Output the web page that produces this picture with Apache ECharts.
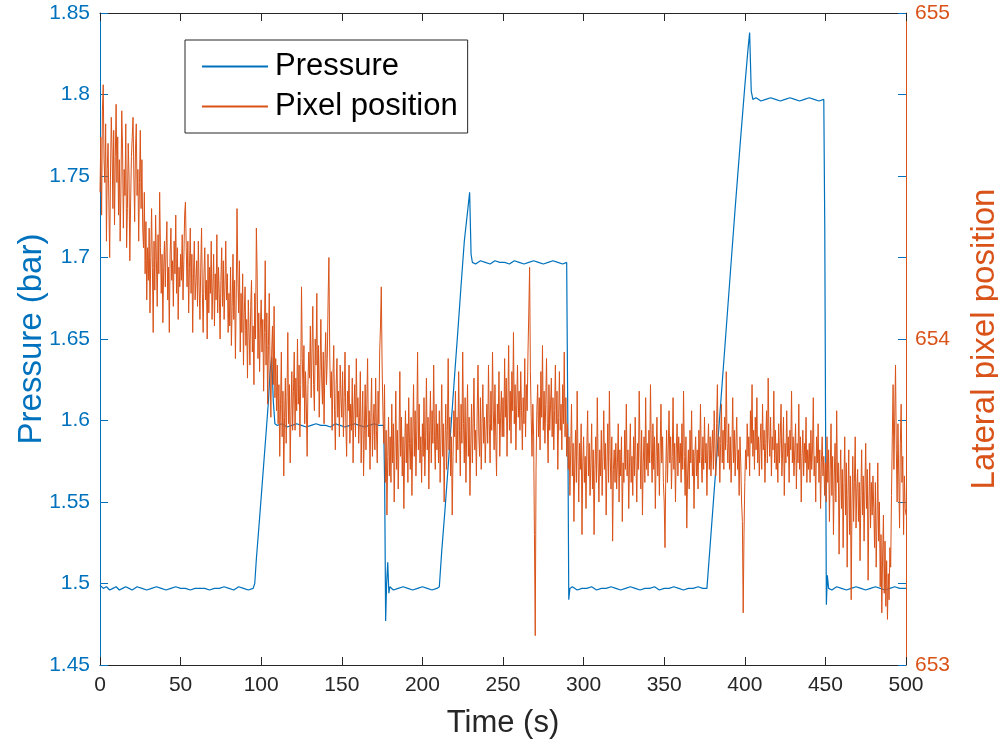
<!DOCTYPE html>
<html>
<head>
<meta charset="utf-8">
<script src="https://cdn.jsdelivr.net/npm/echarts@6/dist/echarts.min.js"></script>
<style>html,body{margin:0;padding:0;background:#fff;}#c{width:998px;height:745px;}</style>
</head>
<body>
<div id="c"></div>
<script>
// X tick labels
var timeTicks = [0, 50, 100, 150, 200, 250, 300, 350, 400, 450, 500];

// Pressure (bar): sample times (s) and values
var pressureTime = [0,2,4,6,8,10,12,14,16,18,20,23,26,29,32,35,38,41,44,47,50,53,56,59,62,65,68,71,74,77,80,83,86,89,92,95,
  96,97,99,101,103,104.5,105.5,106.5,107.5,108.5,110,113,116,119,122,125,128,131,134,137,140,143,146,149,152,155,158,161,164,167,170,173,176,
  176.6,177.2,177.8,178.5,179.2,179.8,180.5,182,185,188,191,194,197,200,203,206,209,210.5,
  212,214,216,218,220,222,224,226,228,229.3,230.2,231,233,236,239,242,245,248,251,254,257,260,263,266,269,272,275,278,281,284,287,289.5,
  290.2,290.8,291.5,293,296,299,302,305,308,311,314,317,320,323,326,329,332,335,338,341,344,347,350,353,356,359,362,365,368,371,374,376.5,
  379,382,385,388,391,394,397,400,402,403,404,405,407,410,413,416,419,422,425,428,431,434,437,440,443,446,449,
  449.6,450.1,450.6,451.2,452,454,457,460,463,466,469,472,475,478,481,484,487,490,493,496,500];
var pressureValue = [1.499,1.497,1.498,1.496,1.497,1.498,1.496,1.497,1.498,1.497,1.496,1.498,1.497,1.496,1.497,1.498,1.497,1.496,1.497,1.498,1.497,1.497,1.496,1.497,1.497,1.497,1.496,1.497,1.497,1.498,1.497,1.496,1.498,1.497,1.496,1.497,
  1.500,1.515,1.540,1.566,1.592,1.612,1.630,1.639,1.612,1.598,1.597,1.598,1.596,1.597,1.598,1.597,1.596,1.597,1.598,1.597,1.597,1.596,1.598,1.597,1.596,1.597,1.598,1.597,1.596,1.597,1.598,1.597,1.597,
  1.560,1.477,1.500,1.513,1.494,1.498,1.497,1.496,1.497,1.498,1.497,1.496,1.497,1.498,1.497,1.496,1.497,1.498,
  1.520,1.545,1.572,1.600,1.628,1.655,1.683,1.710,1.728,1.740,1.702,1.697,1.696,1.698,1.697,1.696,1.698,1.697,1.697,1.696,1.698,1.697,1.696,1.697,1.698,1.697,1.696,1.697,1.698,1.697,1.696,1.697,
  1.600,1.490,1.497,1.498,1.496,1.497,1.497,1.498,1.496,1.497,1.497,1.498,1.497,1.496,1.497,1.498,1.497,1.496,1.497,1.497,1.498,1.496,1.497,1.497,1.498,1.497,1.496,1.497,1.497,1.498,1.497,1.497,
  1.530,1.570,1.610,1.650,1.690,1.730,1.768,1.805,1.828,1.838,1.802,1.797,1.798,1.796,1.797,1.798,1.797,1.796,1.797,1.798,1.797,1.796,1.797,1.798,1.797,1.796,1.797,
  1.720,1.600,1.487,1.505,1.497,1.496,1.498,1.497,1.496,1.497,1.498,1.497,1.496,1.497,1.498,1.497,1.496,1.497,1.498,1.497,1.497];

// Lateral pixel position: one sample every 0.5 s, t = 0 .. 500 s (20 samples per row = 10 s)
var pixelStep = 0.5;
var pixelPosition = [
654.45,654.62,654.38,654.70,654.78,654.55,654.48,654.66,654.30,654.52,654.60,654.42,654.25,654.50,654.68,654.58,654.40,654.64,654.35,654.56,
654.72,654.48,654.62,654.38,654.55,654.30,654.46,654.70,654.58,654.34,654.52,654.44,654.66,654.28,654.40,654.60,654.50,654.24,654.42,654.56,
654.62,654.68,654.50,654.36,654.58,654.66,654.44,654.52,654.30,654.48,654.64,654.40,654.55,654.34,654.28,654.45,654.20,654.36,654.12,654.28,
654.18,654.34,654.08,654.25,654.40,654.22,654.02,654.30,654.15,654.38,654.24,654.10,654.32,654.20,654.45,654.28,654.14,654.26,654.05,654.22,
654.30,654.16,654.28,654.36,654.12,654.22,654.02,654.26,654.34,654.18,654.24,654.10,654.30,654.20,654.38,654.14,654.28,654.06,654.22,654.16,
654.26,654.18,654.32,654.12,654.24,654.38,654.42,654.28,654.16,654.30,654.08,654.22,654.34,654.14,654.26,654.02,654.20,654.30,654.12,654.18,
654.24,654.10,654.30,654.16,654.06,654.22,654.34,654.14,654.02,654.20,654.28,654.12,654.18,654.00,654.26,654.08,654.22,654.14,654.30,654.06,
654.16,654.26,654.04,654.20,654.12,654.32,654.08,654.22,654.14,654.00,654.18,654.28,654.10,654.24,654.06,654.16,654.30,654.12,654.20,654.02,
654.14,654.04,654.22,653.98,654.10,654.26,654.06,654.18,653.94,654.12,654.40,654.20,654.08,654.24,653.96,654.14,654.02,654.20,653.92,654.08,
654.16,653.98,654.06,653.88,654.12,654.02,653.92,654.10,654.18,653.96,654.04,653.86,654.14,654.00,654.34,654.20,653.94,654.08,653.90,654.04,
654.12,653.96,654.06,653.84,654.02,654.24,653.92,654.08,653.80,653.98,654.14,653.90,653.76,653.96,654.04,653.86,654.10,653.82,653.94,653.78,
653.92,653.74,653.86,653.64,653.80,653.96,653.70,653.84,653.58,653.76,653.88,653.68,653.82,654.02,653.74,653.86,653.62,653.78,653.90,653.72,
653.84,653.96,653.72,653.88,653.78,654.00,653.80,653.92,653.70,653.86,654.16,653.94,653.82,653.98,653.74,653.90,653.80,653.64,653.86,653.96,
653.88,654.04,653.82,653.96,654.10,653.86,653.78,654.00,653.92,654.14,653.84,653.98,653.76,653.90,654.06,653.88,653.80,653.96,653.74,653.92,
654.02,653.86,653.94,654.12,654.25,653.96,653.82,653.90,653.72,653.88,653.98,653.78,653.66,653.86,653.94,653.76,653.84,653.70,653.92,653.82,
653.76,653.90,653.70,653.82,653.96,653.74,653.64,653.84,653.78,653.92,653.68,653.80,653.72,653.88,653.62,653.78,653.86,653.70,653.94,653.76,
653.82,653.68,653.76,653.90,653.62,653.74,653.84,653.58,653.72,653.86,653.66,653.80,653.94,653.70,653.78,653.60,653.76,653.88,653.64,653.74,
653.80,653.66,653.88,653.72,653.62,653.84,653.74,653.96,654.04,654.16,653.92,653.78,653.68,653.86,653.56,653.72,653.46,653.64,653.76,653.58,
653.70,653.56,653.80,653.62,653.74,653.50,653.66,653.84,653.60,653.72,653.54,653.68,653.90,653.64,653.76,653.58,653.70,653.48,653.66,653.78,
653.62,653.74,653.56,653.82,653.68,653.60,653.76,653.52,653.70,653.86,653.64,653.78,653.58,653.72,653.96,653.66,653.80,653.62,653.70,653.56,
653.74,653.64,653.82,653.58,653.70,653.88,653.66,653.76,653.54,653.72,653.84,653.62,653.78,653.68,653.92,653.70,653.60,653.80,653.66,653.74,
653.62,653.78,653.56,653.70,653.86,653.64,653.74,653.50,653.68,653.80,653.60,653.72,653.94,653.66,653.76,653.58,653.70,653.46,653.64,653.78,
653.70,653.84,653.62,653.76,653.66,653.90,653.72,653.58,653.80,653.68,653.96,653.74,653.62,653.82,653.56,653.72,653.86,653.64,653.76,653.52,
653.68,653.80,653.62,653.74,653.88,653.66,653.72,653.58,653.78,653.92,653.70,653.64,653.82,653.60,653.74,653.86,653.68,653.76,653.62,653.72,
653.80,653.68,653.92,653.74,653.62,653.84,653.72,653.96,653.78,653.66,653.86,653.70,653.58,653.80,653.74,653.90,653.64,653.76,653.84,653.70,
653.82,653.70,653.94,653.76,653.88,653.64,653.80,653.98,653.72,653.84,653.68,653.90,653.78,654.02,653.74,653.86,653.66,653.80,653.92,653.76,
653.84,653.72,653.90,653.78,653.66,653.82,653.74,653.94,653.70,653.86,653.78,653.96,654.08,654.22,653.90,653.76,653.64,653.80,653.70,653.40,
653.09,653.60,653.78,653.86,653.70,653.82,653.66,653.90,653.76,653.98,653.72,653.84,653.68,653.80,653.94,653.74,653.62,653.86,653.72,653.80,
653.88,653.70,653.82,653.66,653.78,653.92,653.74,653.84,653.60,653.76,653.90,653.72,653.80,653.66,653.86,653.74,653.96,653.70,653.82,653.64,
653.74,653.60,653.70,653.52,653.66,653.80,653.58,653.68,653.44,653.62,653.72,653.56,653.84,653.64,653.50,653.68,653.60,653.74,653.40,653.62,
653.70,653.56,653.64,653.48,653.66,653.78,653.58,653.68,653.52,653.62,653.74,653.54,653.66,653.40,653.60,653.70,653.56,653.82,653.62,653.50,
653.66,653.58,653.72,653.52,653.64,653.78,653.60,653.68,653.46,653.62,653.74,653.56,653.84,653.64,653.54,653.70,653.38,653.60,653.66,653.56,
653.68,653.54,653.62,653.74,653.50,653.66,653.58,653.70,653.44,653.62,653.56,653.72,653.60,653.80,653.58,653.66,653.48,653.62,653.74,653.56,
653.64,653.52,653.70,653.58,653.76,653.62,653.50,653.68,653.60,653.84,653.66,653.54,653.72,653.46,653.62,653.70,653.56,653.82,653.60,653.68,
653.58,653.72,653.62,653.86,653.66,653.56,653.74,653.60,653.70,653.48,653.64,653.76,653.58,653.68,653.52,653.66,653.80,653.62,653.70,653.56,
653.50,653.36,653.60,653.72,653.56,653.66,653.78,653.62,653.70,653.54,653.64,653.82,653.60,653.68,653.50,653.66,653.74,653.58,653.70,653.62,
653.68,653.56,653.74,653.60,653.84,653.64,653.52,653.70,653.42,653.58,653.66,653.54,653.72,653.62,653.78,653.58,653.66,653.48,653.64,653.70,
653.58,653.66,653.54,653.72,653.62,653.80,653.64,653.56,653.70,653.60,653.76,653.62,653.68,653.52,653.66,653.74,653.60,653.70,653.58,653.66,
653.72,653.60,653.78,653.66,653.58,653.74,653.86,653.64,653.70,653.56,653.68,653.80,653.62,653.72,653.60,653.76,653.66,653.90,653.68,653.62,
653.74,653.60,653.70,653.56,653.66,653.82,653.62,653.72,653.58,653.68,653.76,653.60,653.66,653.52,653.70,653.62,653.50,653.44,653.16,653.40,
653.56,653.66,653.60,653.74,653.64,653.70,653.58,653.78,653.68,653.86,653.64,653.72,653.60,653.76,653.66,653.82,653.62,653.70,653.58,653.68,
653.74,653.60,653.80,653.66,653.72,653.56,653.68,653.78,653.62,653.88,653.70,653.64,653.76,653.58,653.70,653.66,653.84,653.62,653.72,653.60,
653.68,653.56,653.74,653.62,653.70,653.80,653.58,653.66,653.76,653.52,653.68,653.62,653.78,653.64,653.70,653.56,653.72,653.66,653.84,653.62,
653.70,653.58,653.66,653.74,653.54,653.68,653.62,653.80,653.60,653.70,653.50,653.64,653.72,653.58,653.68,653.62,653.76,653.56,653.66,653.60,
653.68,653.56,653.72,653.60,653.66,653.82,653.58,653.64,653.50,653.70,653.62,653.74,653.56,653.66,653.48,653.62,653.70,653.58,653.64,653.52,
653.62,653.50,653.70,653.56,653.66,653.44,653.60,653.74,653.52,653.64,653.40,653.58,653.68,653.50,653.78,653.56,653.62,653.34,653.56,653.66,
653.48,653.60,653.36,653.56,653.70,653.46,653.62,653.30,653.52,653.66,653.40,653.58,653.20,653.50,653.64,653.44,653.56,653.70,653.42,653.54,
653.60,653.44,653.56,653.32,653.52,653.66,653.46,653.58,653.38,653.54,653.68,653.48,653.60,653.26,653.50,653.62,653.42,653.56,653.46,653.58,
653.48,653.36,653.56,653.30,653.44,653.62,653.38,653.50,653.24,653.40,653.16,653.34,653.46,653.22,653.38,653.18,653.32,653.14,653.28,653.20,
653.36,653.30,653.52,653.70,653.86,653.60,653.76,653.92,653.66,653.50,653.74,653.58,653.42,653.68,653.80,653.56,653.64,653.40,653.58,653.48,
653.46];

var BLUE = '#0072BD', ORANGE = '#D95319', DARK = '#262626';
var FONT = 'Liberation Sans, Arial, Helvetica, sans-serif';

var pressureData = pressureTime.map(function (t, i) { return [t, pressureValue[i]]; });
var pixelData = pixelPosition.map(function (v, i) { return [i * pixelStep, v]; });

var chart = echarts.init(document.getElementById('c'), null, {renderer: 'canvas'});
chart.setOption({
  animation: false,
  backgroundColor: '#fff',
  textStyle: {fontFamily: FONT},
  grid: {left: 100, right: 92, top: 13, bottom: 80, containLabel: false, outerBoundsMode: 'none'},
  legend: {
    orient: 'vertical', left: 185, top: 40,
    padding: [11, 10, 11, 17],
    backgroundColor: '#fff', borderColor: DARK, borderWidth: 1,
    itemWidth: 66, itemHeight: 2, itemGap: 9,
    textStyle: {fontSize: 31, color: '#000', fontFamily: FONT, padding: [0, 0, 0, 2]},
    data: [
      {name: 'Pressure', icon: 'rect', itemStyle: {color: BLUE}},
      {name: 'Pixel position', icon: 'rect', itemStyle: {color: ORANGE}}
    ]
  },
  xAxis: [{
    type: 'value', min: 0, max: 500, interval: 50, position: 'bottom',
    name: 'Time (s)', nameLocation: 'middle', nameGap: 43, nameMoveOverlap: false,
    nameTextStyle: {fontSize: 31, color: DARK, fontFamily: FONT},
    axisLine: {onZero: false, lineStyle: {color: DARK, width: 1}},
    axisTick: {inside: true, length: 8, lineStyle: {color: DARK}},
    axisLabel: {fontSize: 21, color: DARK, margin: 10, fontFamily: FONT,
      formatter: function (v) { return timeTicks.indexOf(v) >= 0 ? String(v) : ''; }},
    splitLine: {show: false}
  }, {
    type: 'value', min: 0, max: 500, interval: 50, position: 'top',
    axisLine: {onZero: false, lineStyle: {color: DARK, width: 1}},
    axisTick: {inside: true, length: 8, lineStyle: {color: DARK}},
    axisLabel: {show: false}, splitLine: {show: false}
  }],
  yAxis: [{
    type: 'value', min: 1.45, max: 1.85, interval: 0.05, position: 'left',
    name: 'Pressure (bar)', nameLocation: 'middle', nameGap: 52, nameRotate: 90, nameMoveOverlap: false,
    nameTextStyle: {fontSize: 33, color: BLUE, fontFamily: FONT},
    axisLine: {show: true, onZero: false, lineStyle: {color: BLUE, width: 1}},
    axisTick: {show: true, inside: true, length: 8, lineStyle: {color: BLUE}},
    axisLabel: {fontSize: 21, color: BLUE, margin: 10, fontFamily: FONT,
      formatter: function (v) { return String(Math.round(v * 100) / 100); }},
    splitLine: {show: false}
  }, {
    type: 'value', min: 653, max: 655, interval: 1, position: 'right',
    name: 'Lateral pixel position', nameLocation: 'middle', nameGap: 62, nameRotate: 90, nameMoveOverlap: false,
    nameTextStyle: {fontSize: 33, color: ORANGE, fontFamily: FONT},
    axisLine: {show: true, onZero: false, lineStyle: {color: ORANGE, width: 1}},
    axisTick: {show: true, inside: true, length: 8, lineStyle: {color: ORANGE}},
    axisLabel: {fontSize: 21, color: ORANGE, margin: 9, fontFamily: FONT},
    splitLine: {show: false}
  }, {
    type: 'value', min: 1.45, max: 1.85, interval: 0.05, position: 'right',
    axisLine: {show: false, onZero: false},
    axisTick: {show: true, inside: true, length: 8, lineStyle: {color: BLUE}},
    axisLabel: {show: false}, splitLine: {show: false}
  }],
  series: [{
    name: 'Pressure', type: 'line', xAxisIndex: 0, yAxisIndex: 0,
    data: pressureData, symbol: 'none', showSymbol: false,
    lineStyle: {color: BLUE, width: 1.2}, itemStyle: {color: BLUE}, z: 2
  }, {
    name: 'Pixel position', type: 'line', xAxisIndex: 0, yAxisIndex: 1,
    data: pixelData, symbol: 'none', showSymbol: false,
    lineStyle: {color: ORANGE, width: 1}, itemStyle: {color: ORANGE}, z: 3
  }]
});
</script>
</body>
</html>
